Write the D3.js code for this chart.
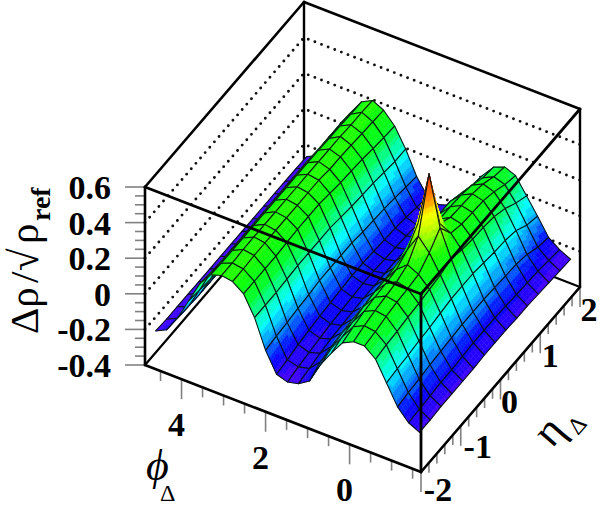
<!DOCTYPE html>
<html><head><meta charset="utf-8">
<script src="https://cdn.jsdelivr.net/npm/d3@7"></script>
<style>html,body{margin:0;padding:0;background:#fff}svg{display:block}text{font-family:"Liberation Serif",serif}</style>
</head><body><svg id="c" width="600" height="508"></svg>
<script>
// phi bin centres, eta bin centres
const phiBins=[-1.571,-1.309,-1.047,-0.785,-0.524,-0.262,0,0.262,0.524,0.785,1.047,1.309,1.571,1.833,2.094,2.356,2.618,2.88,3.142,3.403,3.665,3.927,4.189,4.451,4.712];
const etaBins=[-1.9,-1.629,-1.357,-1.086,-0.814,-0.543,-0.271,0,0.271,0.543,0.814,1.086,1.357,1.629,1.9];
// surface heights, one row per eta bin
const zEta00=[-.215,-.185,-.12,-.01,.10,.15,.15,.12,.04,-.05,-.166,-.205,-.22,-.20,-.09,.07,.18,.225,.235,.215,.14,.02,-.10,-.19,-.22];
const zEta01=[-.215,-.18,-.11,.0,.11,.16,.17,.14,.06,-.03,-.13,-.19,-.205,-.19,-.08,.07,.18,.225,.235,.21,.13,.01,-.105,-.195,-.225];
const zEta02=[-.21,-.175,-.105,.005,.115,.175,.185,.155,.075,-.015,-.115,-.175,-.195,-.175,-.075,.07,.18,.23,.24,.21,.125,.0,-.11,-.2,-.225];
const zEta03=[-.21,-.17,-.095,.015,.125,.185,.195,.165,.09,-.005,-.105,-.165,-.185,-.165,-.065,.075,.18,.23,.24,.21,.125,.0,-.11,-.2,-.225];
const zEta04=[-.21,-.17,-.09,.02,.13,.19,.205,.17,.10,.0,-.10,-.16,-.175,-.155,-.06,.08,.185,.23,.24,.21,.125,.0,-.11,-.2,-.225];
const zEta05=[-.21,-.165,-.085,.03,.14,.20,.23,.18,.10,.0,-.10,-.155,-.17,-.15,-.05,.08,.19,.23,.24,.21,.125,.0,-.11,-.2,-.225];
const zEta06=[-.205,-.16,-.08,.04,.15,.25,.32,.22,.11,.01,-.09,-.15,-.165,-.145,-.05,.08,.19,.23,.24,.21,.125,.0,-.11,-.2,-.225];
const zEta07=[-.205,-.16,-.08,.04,.17,.32,.60,.30,.12,.01,-.09,-.15,-.16,-.14,-.05,.08,.19,.23,.24,.21,.125,.0,-.11,-.2,-.225];
const zEta08=[-.205,-.16,-.08,.04,.15,.22,.25,.20,.11,.01,-.09,-.15,-.16,-.14,-.05,.07,.18,.23,.24,.21,.125,.0,-.11,-.2,-.225];
const zEta09=[-.21,-.165,-.085,.03,.14,.20,.215,.18,.11,.02,-.09,-.15,-.165,-.145,-.06,.06,.17,.22,.24,.21,.125,.0,-.11,-.2,-.225];
const zEta10=[-.21,-.17,-.09,.02,.135,.195,.21,.18,.115,.02,-.095,-.155,-.17,-.15,-.065,.055,.165,.22,.24,.21,.125,.0,-.11,-.2,-.225];
const zEta11=[-.215,-.175,-.095,.015,.125,.19,.205,.175,.115,.02,-.10,-.16,-.175,-.155,-.07,.05,.16,.215,.24,.205,.12,.0,-.11,-.2,-.225];
const zEta12=[-.22,-.18,-.11,.0,.10,.17,.19,.16,.09,.0,-.11,-.17,-.185,-.165,-.08,.04,.15,.21,.235,.205,.12,.0,-.11,-.2,-.225];
const zEta13=[-.225,-.19,-.14,-.04,.06,.14,.16,.13,.06,-.03,-.12,-.18,-.20,-.18,-.09,.03,.14,.205,.235,.20,.12,.0,-.11,-.2,-.225];
const zEta14=[-.23,-.2,-.155,-.06,.03,.12,.145,.12,.05,-.03,-.12,-.19,-.21,-.19,-.1,.03,.135,.2,.231,.2,.115,-.01,-.115,-.2,-.228];
const zRows=[zEta00,zEta01,zEta02,zEta03,zEta04,zEta05,zEta06,zEta07,zEta08,zEta09,zEta10,zEta11,zEta12,zEta13,zEta14];
// axis ticks and labels
const zMajor=[-0.4,-0.2,0,0.2,0.4,0.6];
const zMinor=[-0.35,-0.3,-0.25,-0.15,-0.1,-0.05,0.05,0.1,0.15,0.25,0.3,0.35,0.45,0.5,0.55];
const zLabels=["-0.4","-0.2","0","0.2","0.4","0.6"];
const zGrid=[-0.2,0,0.2,0.4];
const phiMajor=[0,2,4];
const phiMinor=[-1.5,-1,-0.5,0.5,1,1.5,2.5,3,3.5,4.5];
const etaMajor=[-2,-1,0,1,2];
const etaMinor=[-1.8,-1.6,-1.4,-1.2,-0.8,-0.6,-0.4,-0.2,0.2,0.4,0.6,0.8,1.2,1.4,1.6,1.8];
// palette stops
const colourZ=[-0.23,-0.15,-0.1,-0.05,0.01,0.08,0.15,0.22,0.30,0.35,0.41,0.46,0.55,0.6];
const colourHex=["#4a00ff","#0000ff","#0060ff","#00a8ff","#00ffff","#00ff90","#00ff20","#10ff00","#88ff00","#d8ff00","#ffff00","#ffa000","#ff5000","#d02000"];

const svg=d3.select("#c");
const phiDom=[-1.7,4.87], etaDom=[-2,2], zDom=[-0.4,0.6];
const xPhi=d3.scaleLinear().domain(phiDom).range([421,145]);
const yPhi=d3.scaleLinear().domain(phiDom).range([472,365]);
const xEta=d3.scaleLinear().domain(etaDom).range([0,159]);
const yEta=d3.scaleLinear().domain(etaDom).range([0,-185]);
const yZ=d3.scaleLinear().domain(zDom).range([0,-178]);
const P=(p,e,z)=>[xPhi(p)+xEta(e),yPhi(p)+yEta(e)+yZ(z)];
const line=d3.line();
const zStep=0.028;
const colour=d3.scaleLinear().domain(colourZ).range(colourHex).clamp(true);
const band=z=>colour((Math.floor((z+0.4)/zStep)+0.5)*zStep-0.4);

function seg(g,a,b,w,c){g.append("path").attr("d",line([a,b])).attr("stroke",c||"#000").attr("stroke-width",w).attr("fill","none").attr("stroke-linecap","round");}
const [p0,p1]=phiDom,[e0,e1]=etaDom,[z0,z1]=zDom;

// back layer
const back=svg.append("g");
back.selectAll(".gridL").data(zGrid).join("path").attr("fill","none").attr("stroke","#111").attr("stroke-width",2.9)
  .attr("stroke-linecap","round").attr("stroke-dasharray","0 7.1")
  .attr("d",z=>line([P(p1,e0,z),P(p1,e1,z),P(p0,e1,z)]));
seg(back,P(p1,e0,z0),P(p1,e1,z0),2.2);
seg(back,P(p1,e1,z0),P(p0,e1,z0),2.2);
seg(back,P(p1,e1,z0),P(p1,e1,z1),2.4);
seg(back,P(p1,e0,z1),P(p1,e1,z1),2.6);
seg(back,P(p1,e1,z1),P(p0,e1,z1),2.6);
seg(back,P(p0,e1,z0),P(p0,e1,z1),2.4);

// surface
const surf=svg.append("g");
for(let i=phiBins.length-2;i>=0;i--){
  for(let j=etaBins.length-2;j>=0;j--){
    const zz=[zRows[j][i],zRows[j][i+1],zRows[j+1][i+1],zRows[j+1][i]];
    const n=Math.max(4,Math.min(16,Math.ceil((d3.max(zz)-d3.min(zz))/0.02)));
    const pa=phiBins[i],pb=phiBins[i+1],ea=etaBins[j],eb=etaBins[j+1];
    const sub=[];
    const zAt=(u,v)=>zz[0]*(1-u)*(1-v)+zz[1]*u*(1-v)+zz[2]*u*v+zz[3]*(1-u)*v;
    const pt=(u,v)=>P(pa+(pb-pa)*u,ea+(eb-ea)*v,zAt(u,v));
    for(let a=n-1;a>=0;a--)for(let b=n-1;b>=0;b--){
      const u=a/n,v=b/n,d=1/n;
      sub.push({pts:[pt(u,v),pt(u+d,v),pt(u+d,v+d),pt(u,v+d)],c:band(zAt(u+d/2,v+d/2))});
    }
    const g=surf.append("g");
    g.selectAll("path").data(sub).join("path")
      .attr("d",s=>line(s.pts)+"Z").attr("fill",s=>s.c).attr("stroke",s=>s.c).attr("stroke-width",0.5);
    g.append("path").attr("d",line([pt(0,0),pt(1,0),pt(1,1),pt(0,1)])+"Z").attr("fill","none").attr("stroke","#0a1414").attr("stroke-width",1.05).attr("stroke-linejoin","round");
  }
}

// front edges
const front=svg.append("g");
seg(front,P(p1,e0,z1),P(p0,e0,z1),2.8);
seg(front,P(p0,e0,z1),P(p0,e1,z1),2.8);
seg(front,P(p0,e0,z0),P(p0,e0,z1),2.8);
seg(front,P(p1,e0,z0),P(p1,e0,z1),2.6);
seg(front,P(p1,e0,z0),P(p0,e0,z0),2.6);
seg(front,P(p0,e0,z0),P(p0,e1,z0),2.6);

// ticks
const ticks=svg.insert("g",":first-child").attr("stroke","#808080").attr("stroke-width",1.6);
const xl=xPhi(p1),yl=z=>yPhi(p1)+yZ(z);
ticks.selectAll(".zt").data(zMajor).join("line").attr("x1",xl-20).attr("x2",xl).attr("y1",yl).attr("y2",yl);
ticks.selectAll(".zm").data(zMinor).join("line").attr("x1",xl-10).attr("x2",xl).attr("y1",yl).attr("y2",yl);
const phiTick=(d,len)=>{const a=P(d,e0,z0);return {x:a[0],y:a[1],len};};
ticks.selectAll(".pt").data(phiMajor.map(d=>phiTick(d,20)).concat(phiMinor.map(d=>phiTick(d,10)))).join("line")
  .attr("x1",d=>d.x).attr("x2",d=>d.x).attr("y1",d=>d.y).attr("y2",d=>d.y+d.len);
const etaTick=(d,len)=>{const a=P(p0,d,z0);return {x:a[0],y:a[1],len};};
ticks.selectAll(".et").data(etaMajor.map(d=>etaTick(d,20)).concat(etaMinor.map(d=>etaTick(d,10)))).join("line")
  .attr("x1",d=>d.x).attr("x2",d=>d.x).attr("y1",d=>d.y).attr("y2",d=>d.y+d.len);

// tick labels
const lab=svg.append("g").attr("font-weight","bold").attr("font-size",34).attr("fill","#000");
lab.selectAll(".zl").data(zMajor).join("text").attr("x",111).attr("y",d=>yl(d)+12).attr("text-anchor","end").text((d,i)=>zLabels[i]);
lab.selectAll(".pl").data(phiMajor).join("text").attr("x",d=>xPhi(d)-5).attr("y",d=>yPhi(d)+57).attr("text-anchor","middle").text(d=>d);
const etaDx={"-2":17,"-1":17,"0":9,"1":10,"2":9}, etaDy={"-2":28.5,"-1":32,"0":33.5,"1":34,"2":34};
lab.selectAll(".el").data(etaMajor).join("text").attr("x",d=>xPhi(p0)+xEta(d)+etaDx[d]).attr("y",d=>yPhi(p0)+yEta(d)+etaDy[d]).attr("text-anchor","middle").text(d=>d);

// axis titles
const ttl=svg.append("g").attr("fill","#000");
const rot=(x,y,t,fs,opt={})=>ttl.append("text").attr("transform",`translate(${x},${y}) rotate(${opt.a===undefined?-90:opt.a})`).attr("font-size",fs).attr("font-weight",opt.w||"normal").attr("font-style",opt.s||"normal").text(t);
rot(38,334,"Δρ",41);
rot(38,283,"/",41);
rot(38,271,"√",41);
rot(38,244,"ρ",41);
rot(50,221,"ref",28,{w:"bold"});
rot(146,480,"ϕ",44,{a:0,s:"italic"});
rot(160,501,"Δ",24,{a:0});
rot(552,449,"η",44,{a:-49});
rot(578,436,"Δ",24,{a:-49});
</script></body></html>
